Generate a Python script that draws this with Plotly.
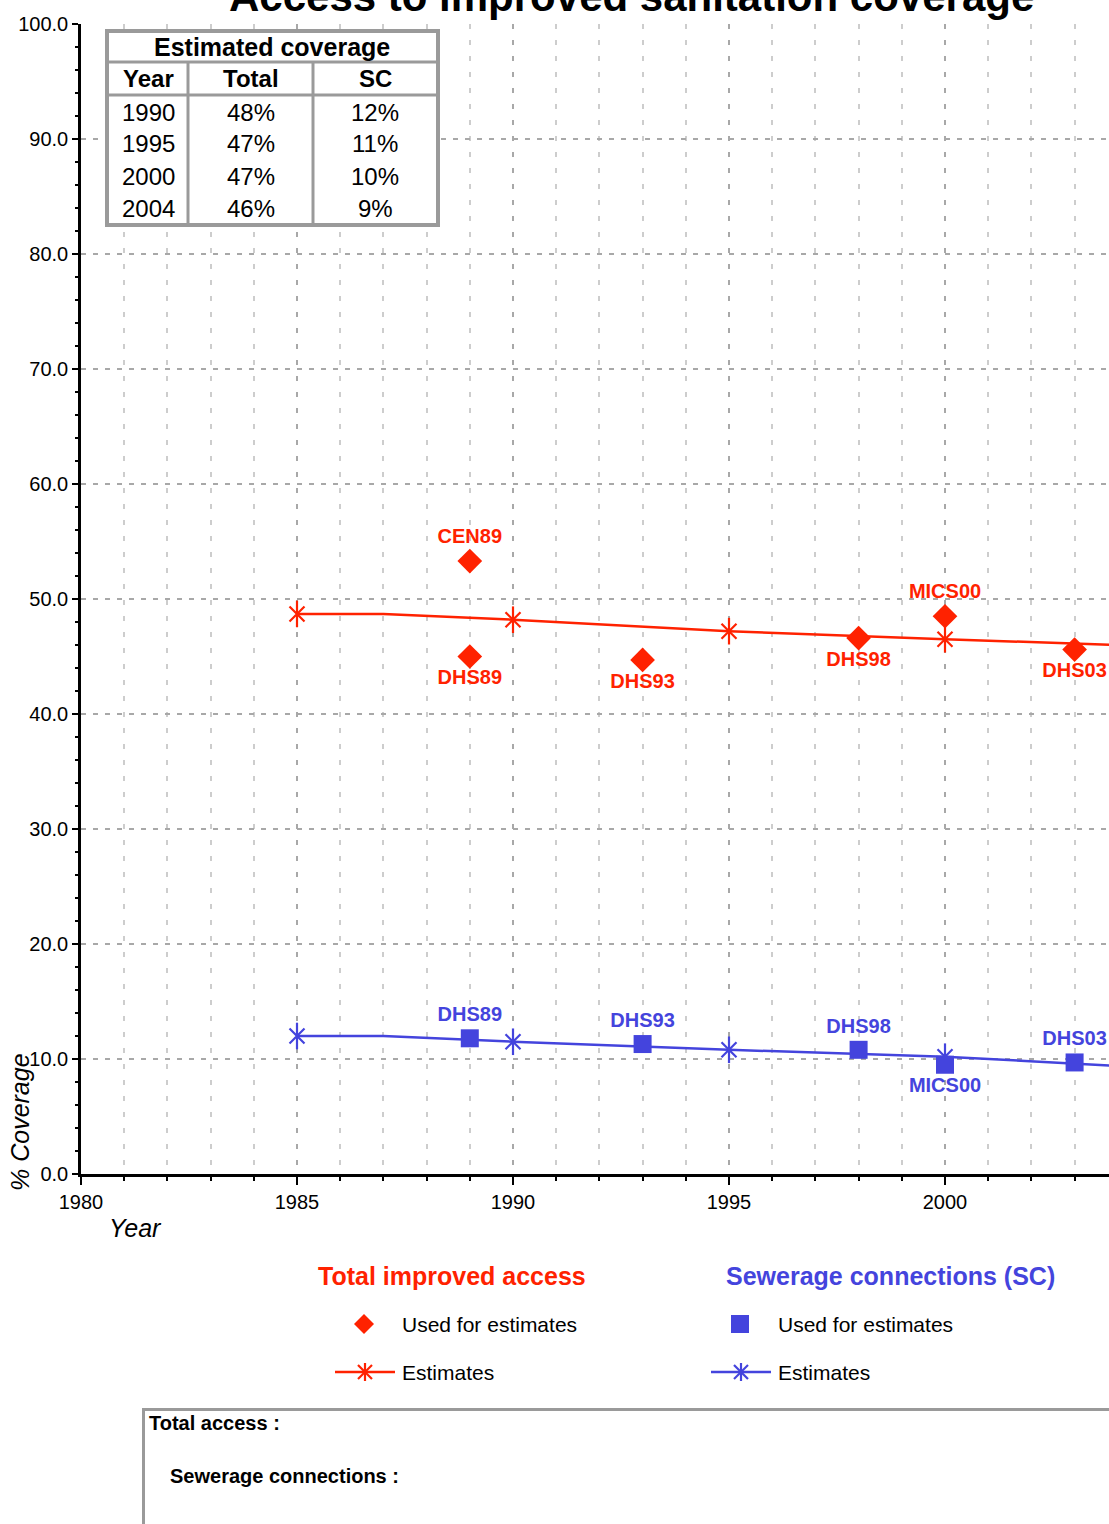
import plotly.graph_objects as go

# ---------------- data ----------------
est_years = [1985, 1987, 1990, 1995, 2000, 2004]
total_est = [48.7, 48.7, 48.2, 47.2, 46.5, 46.0]
sc_est = [12.0, 12.0, 11.5, 10.8, 10.2, 9.4]
est_marker_years = [1985, 1990, 1995, 2000]

total_survey_years = [1989, 1989, 1993, 1998, 2000, 2003]
total_survey_vals = [53.3, 45.0, 44.7, 46.6, 48.5, 45.6]
total_survey_labels = ["CEN89", "DHS89", "DHS93", "DHS98", "MICS00", "DHS03"]
total_label_side = ["top", "bottom", "bottom", "bottom", "top", "bottom"]

sc_survey_years = [1989, 1993, 1998, 2000, 2003]
sc_survey_vals = [11.8, 11.3, 10.8, 9.5, 9.7]
sc_survey_labels = ["DHS89", "DHS93", "DHS98", "MICS00", "DHS03"]
sc_label_side = ["top", "top", "top", "bottom", "top"]

table_title = "Estimated coverage"
table_header = ["Year", "Total", "SC"]
table_years = ["1990", "1995", "2000", "2004"]
table_total = ["48%", "47%", "47%", "46%"]
table_sc = ["12%", "11%", "10%", "9%"]

title_text = "Access to improved sanitation coverage"
x_title = "Year"
y_title = "% Coverage"
legend_total = "Total improved access"
legend_sc = "Sewerage connections (SC)"
legend_used = "Used for estimates"
legend_est = "Estimates"
box_line1 = "Total access :"
box_line2 = "Sewerage connections :"

# ---------------- style ----------------
W, H = 1109, 1524
L, R, T, B = 81, 0, 24, 350
RED = "#FF2200"
BLUE = "#4444DD"
GRID = "#A8A8A8"
GRID_MINOR = "#CDCDCD"
BORDER = "#9A9A9A"
FONT = "Liberation Sans, Arial, sans-serif"


def px(x):
    return (x - L) / (W - L - R)


def py(y):
    return (H - B - y) / (H - T - B)


def pick(years, vals, keep):
    return [v for yr, v in zip(years, vals) if yr in keep]


fig = go.Figure()

# estimate lines
for vals, col in [(total_est, RED), (sc_est, BLUE)]:
    fig.add_trace(go.Scatter(x=est_years, y=vals, mode="lines",
                             line=dict(color=col, width=2.5),
                             hoverinfo="skip", showlegend=False))
    mx = pick(est_years, est_years, est_marker_years)
    my = pick(est_years, vals, est_marker_years)
    for sym, size in [("x-thin-open", 15), ("line-ns-open", 19)]:
        fig.add_trace(go.Scatter(x=mx, y=my, mode="markers",
                                 marker=dict(symbol=sym, size=size, color=col,
                                             line=dict(color=col, width=2.2)),
                                 hoverinfo="skip", showlegend=False))

# survey points
fig.add_trace(go.Scatter(
    x=total_survey_years, y=total_survey_vals, mode="markers+text",
    marker=dict(symbol="diamond", size=19, color=RED),
    text=total_survey_labels,
    textposition=[s + " center" for s in total_label_side],
    textfont=dict(family=FONT, size=20, color=RED, weight="bold"),
    hoverinfo="skip", showlegend=False, cliponaxis=False))

fig.add_trace(go.Scatter(
    x=sc_survey_years, y=sc_survey_vals, mode="markers+text",
    marker=dict(symbol="square", size=18, color=BLUE),
    text=sc_survey_labels,
    textposition=[s + " center" for s in sc_label_side],
    textfont=dict(family=FONT, size=20, color=BLUE, weight="bold"),
    hoverinfo="skip", showlegend=False, cliponaxis=False))

shapes = []
annots = []


def text(x, y, s, size, color="black", bold=False, italic=False,
         xanchor="center", angle=0):
    annots.append(dict(
        x=px(x), y=py(y), xref="paper", yref="paper", text=s,
        showarrow=False, xanchor=xanchor, yanchor="middle", textangle=angle,
        font=dict(family=FONT, size=size, color=color,
                  weight="bold" if bold else "normal",
                  style="italic" if italic else "normal")))


def line(x0, y0, x1, y1, color, width):
    shapes.append(dict(type="line", xref="paper", yref="paper",
                       x0=px(x0), y0=py(y0), x1=px(x1), y1=py(y1),
                       line=dict(color=color, width=width), layer="above"))


# ---- title & axis titles ----
annots.append(dict(x=px(631), y=py(22), xref="paper", yref="paper",
                   text=title_text, showarrow=False, xanchor="center",
                   yanchor="bottom",
                   font=dict(family=FONT, size=42, color="black",
                             weight="bold")))
text(20, 1122, y_title, 25, italic=True, angle=-90)
text(135, 1228, x_title, 25, italic=True)

# ---- coverage table ----
shapes.append(dict(type="rect", xref="paper", yref="paper",
                   x0=px(107), x1=px(438), y0=py(31), y1=py(225),
                   line=dict(color=BORDER, width=4), fillcolor="white",
                   layer="above"))
line(107, 62, 438, 62, BORDER, 3)
line(107, 95, 438, 95, BORDER, 3)
line(188, 62, 188, 225, BORDER, 3)
line(313, 62, 313, 225, BORDER, 3)
text(272, 47, table_title, 25, bold=True)
col_x = [148, 251, 375]
for cx, h in zip(col_x, table_header):
    text(cx, 78, h, 24, bold=True)
row_y = [112, 144, 176, 208]
for ry, a, b, c in zip(row_y, table_years, table_total, table_sc):
    for cx, s in zip(col_x, [a, b, c]):
        text(cx, ry, s, 24)

# ---- legend block ----
text(452, 1276, legend_total, 25, color=RED, bold=True)
text(890, 1276, legend_sc, 25, color=BLUE, bold=True)
shapes.append(dict(type="path", xref="paper", yref="paper",
                   path="M {} {} L {} {} L {} {} L {} {} Z".format(
                       px(364), py(1314), px(374), py(1324),
                       px(364), py(1334), px(354), py(1324)),
                   fillcolor=RED, line=dict(color=RED, width=0), layer="above"))
shapes.append(dict(type="rect", xref="paper", yref="paper",
                   x0=px(731), x1=px(749), y0=py(1315), y1=py(1333),
                   fillcolor=BLUE, line=dict(color=BLUE, width=0),
                   layer="above"))
for cx, col, x0, x1 in [(365, RED, 335, 395), (741, BLUE, 711, 771)]:
    line(x0, 1372, x1, 1372, col, 2.5)
    line(cx, 1363, cx, 1381, col, 2.2)
    line(cx - 7, 1365, cx + 7, 1379, col, 2.2)
    line(cx - 7, 1379, cx + 7, 1365, col, 2.2)
text(400, 1324, legend_used, 21, xanchor="left")
text(776, 1324, legend_used, 21, xanchor="left")
text(400, 1372, legend_est, 21, xanchor="left")
text(776, 1372, legend_est, 21, xanchor="left")

# ---- notes box ----
shapes.append(dict(type="rect", xref="paper", yref="paper",
                   x0=px(143.5), x1=px(1140), y0=py(1409.5), y1=py(1560),
                   line=dict(color=BORDER, width=3), fillcolor="rgba(0,0,0,0)",
                   layer="above"))
text(147, 1423, box_line1, 20, bold=True, xanchor="left")
text(168, 1476, box_line2, 20, bold=True, xanchor="left")

fig.update_layout(
    width=W, height=H,
    margin=dict(l=L, r=R, t=T, b=B, pad=0),
    paper_bgcolor="white", plot_bgcolor="white",
    font=dict(family=FONT, color="black"),
    shapes=shapes, annotations=annots, showlegend=False,
)

fig.update_xaxes(
    range=[1980, 1980 + (W - L - R) / 43.2],
    tick0=1980, dtick=5, ticks="outside", ticklen=8, tickwidth=2,
    tickcolor="black", tickfont=dict(size=20, family=FONT),
    showline=True, linecolor="black", linewidth=2.5, zeroline=False,
    showgrid=True, gridcolor=GRID, gridwidth=2, griddash="5px,11px",
    minor=dict(dtick=1, ticks="outside", ticklen=4, tickwidth=2,
               tickcolor="black", showgrid=True, gridcolor=GRID_MINOR,
               gridwidth=2, griddash="5px,11px"),
)
fig.update_yaxes(
    range=[0, 100], tick0=0, dtick=10, tickformat=".1f",
    ticks="outside", ticklen=6, tickwidth=2, tickcolor="black",
    tickfont=dict(size=20, family=FONT),
    showline=True, linecolor="black", linewidth=2.5, zeroline=False,
    showgrid=True, gridcolor=GRID, gridwidth=2, griddash="5px,7px",
    minor=dict(dtick=2, ticks="outside", ticklen=3, tickwidth=2,
               tickcolor="black", showgrid=False),
)

fig.write_html("out.html", config={"displayModeBar": False},
               post_script="document.body.style.margin='0';")
